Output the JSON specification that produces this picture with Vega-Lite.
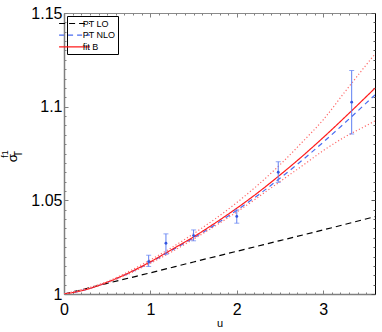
{
  "$schema": "https://vega.github.io/schema/vega-lite/v6.json",
  "width": 311,
  "height": 281,
  "autosize": {"type": "none"},
  "padding": {"left": 64, "top": 13, "right": 7, "bottom": 38},
  "background": "white",
  "config": {
    "view": {"stroke": null},
    "font": "Liberation Sans",
    "axis": {"grid": false, "titleFontWeight": "normal", "labelColor": "#000", "titleColor": "#000", "labelFlush": false, "labelOverlap": false, "labelBound": false, "tickColor": "#808080", "domainColor": "#808080"},
    "legend": {"labelFont": "Liberation Sans", "labelFontSize": 9, "labelColor": "#000"}
  },
  "datasets": {
    "main": [
      {"u": 0, "y": 1.0, "s": "PT LO"},
      {"u": 0.25, "y": 1.0028, "s": "PT LO"},
      {"u": 0.5, "y": 1.0057, "s": "PT LO"},
      {"u": 0.75, "y": 1.0085, "s": "PT LO"},
      {"u": 1.0, "y": 1.0113, "s": "PT LO"},
      {"u": 1.5, "y": 1.0171, "s": "PT LO"},
      {"u": 2.0, "y": 1.0228, "s": "PT LO"},
      {"u": 2.5, "y": 1.0285, "s": "PT LO"},
      {"u": 3.0, "y": 1.0342, "s": "PT LO"},
      {"u": 3.6, "y": 1.0413, "s": "PT LO"},
      {"u": 0, "y": 1.0, "s": "PT NLO"},
      {"u": 0.25, "y": 1.0023, "s": "PT NLO"},
      {"u": 0.5, "y": 1.0062, "s": "PT NLO"},
      {"u": 0.75, "y": 1.0111, "s": "PT NLO"},
      {"u": 1.0, "y": 1.0169, "s": "PT NLO"},
      {"u": 1.25, "y": 1.0234, "s": "PT NLO"},
      {"u": 1.5, "y": 1.0299, "s": "PT NLO"},
      {"u": 1.75, "y": 1.037, "s": "PT NLO"},
      {"u": 2.0, "y": 1.0447, "s": "PT NLO"},
      {"u": 2.25, "y": 1.0529, "s": "PT NLO"},
      {"u": 2.5, "y": 1.0618, "s": "PT NLO"},
      {"u": 2.75, "y": 1.0711, "s": "PT NLO"},
      {"u": 3.0, "y": 1.081, "s": "PT NLO"},
      {"u": 3.25, "y": 1.0913, "s": "PT NLO"},
      {"u": 3.5, "y": 1.102, "s": "PT NLO"},
      {"u": 3.6, "y": 1.1063, "s": "PT NLO"},
      {"u": 0, "y": 1.0, "s": "fit B"},
      {"u": 0.25, "y": 1.0023, "s": "fit B"},
      {"u": 0.5, "y": 1.0063, "s": "fit B"},
      {"u": 0.75, "y": 1.0113, "s": "fit B"},
      {"u": 1.0, "y": 1.0172, "s": "fit B"},
      {"u": 1.25, "y": 1.0238, "s": "fit B"},
      {"u": 1.5, "y": 1.0305, "s": "fit B"},
      {"u": 1.75, "y": 1.0379, "s": "fit B"},
      {"u": 2.0, "y": 1.0458, "s": "fit B"},
      {"u": 2.25, "y": 1.0543, "s": "fit B"},
      {"u": 2.5, "y": 1.0635, "s": "fit B"},
      {"u": 2.75, "y": 1.0732, "s": "fit B"},
      {"u": 3.0, "y": 1.0835, "s": "fit B"},
      {"u": 3.25, "y": 1.0943, "s": "fit B"},
      {"u": 3.5, "y": 1.1054, "s": "fit B"},
      {"u": 3.6, "y": 1.1099, "s": "fit B"}
    ],
    "band": [
      {"u": 0, "y": 1.0, "b": "upper"},
      {"u": 0.5, "y": 1.0067, "b": "upper"},
      {"u": 1.0, "y": 1.0182, "b": "upper"},
      {"u": 1.5, "y": 1.0322, "b": "upper"},
      {"u": 2.0, "y": 1.0488, "b": "upper"},
      {"u": 2.5, "y": 1.069, "b": "upper"},
      {"u": 2.75, "y": 1.0807, "b": "upper"},
      {"u": 3.0, "y": 1.093, "b": "upper"},
      {"u": 3.25, "y": 1.1078, "b": "upper"},
      {"u": 3.5, "y": 1.1224, "b": "upper"},
      {"u": 3.6, "y": 1.1281, "b": "upper"},
      {"u": 0, "y": 1.0, "b": "lower"},
      {"u": 0.5, "y": 1.006, "b": "lower"},
      {"u": 1.0, "y": 1.0164, "b": "lower"},
      {"u": 1.5, "y": 1.0293, "b": "lower"},
      {"u": 2.0, "y": 1.0438, "b": "lower"},
      {"u": 2.5, "y": 1.06, "b": "lower"},
      {"u": 2.75, "y": 1.0682, "b": "lower"},
      {"u": 3.0, "y": 1.0765, "b": "lower"},
      {"u": 3.25, "y": 1.0838, "b": "lower"},
      {"u": 3.5, "y": 1.0899, "b": "lower"},
      {"u": 3.6, "y": 1.0924, "b": "lower"}
    ],
    "pts": [
      {"u": 0.98, "y": 1.0173, "lo": 1.0147, "hi": 1.0207},
      {"u": 1.18, "y": 1.0271, "lo": 1.0212, "hi": 1.0321},
      {"u": 1.5, "y": 1.0312, "lo": 1.0284, "hi": 1.0342},
      {"u": 2.0, "y": 1.0414, "lo": 1.0378, "hi": 1.0449},
      {"u": 2.48, "y": 1.065, "lo": 1.0596, "hi": 1.0706},
      {"u": 3.33, "y": 1.1024, "lo": 1.0854, "hi": 1.1193}
    ]
  },
  "resolve": {"axis": {"x": "independent", "y": "independent"}},
  "layer": [
    {
      "data": {"name": "main"},
      "mark": {"type": "line", "strokeWidth": 1.2, "interpolate": "monotone", "clip": true},
      "encoding": {
        "x": {"field": "u", "type": "quantitative", "scale": {"domain": [0, 3.6], "nice": false, "zero": false},
          "axis": {"orient": "bottom", "values": [0, 1, 2, 3], "format": "~g", "ticks": false, "labelFontSize": 16, "labelPadding": 7, "domainColor": "#7f7f7f", "domainWidth": 1.5, "title": "u", "titleFontSize": 11, "titlePadding": 0}},
        "y": {"field": "y", "type": "quantitative", "scale": {"domain": [1, 1.15], "nice": false, "zero": false},
          "axis": {"orient": "left", "values": [1, 1.05, 1.1, 1.15], "format": "~g", "ticks": false, "labelFontSize": 16, "labelPadding": 2, "domainColor": "#7f7f7f", "domainWidth": 1.5, "title": "σ\u2009", "titleAlign": "right", "titleFontSize": 13.5, "titlePadding": 11}},
        "color": {"field": "s", "type": "nominal", "scale": {"domain": ["PT LO", "PT NLO", "fit B"], "range": ["#000000", "#4a6cf0", "#ff1a1a"]},
          "legend": {"title": null, "orient": "top-left", "offset": 3, "padding": 2, "strokeColor": "#000", "fillColor": "#fff", "symbolType": "M-3.25,0H3.25", "symbolSize": 90, "symbolStrokeWidth": 1.2, "symbolOffset": 0, "labelOffset": 2.7, "rowPadding": 0.7}},
        "strokeDash": {"field": "s", "type": "nominal", "scale": {"domain": ["PT LO", "PT NLO", "fit B"], "range": [[6, 4], [5, 4], [1, 0]]},
          "legend": {"title": null, "orient": "top-left", "offset": 3, "padding": 2, "strokeColor": "#000", "fillColor": "#fff", "symbolType": "M-3.25,0H3.25", "symbolSize": 90, "symbolStrokeWidth": 1.2, "symbolOffset": 0, "labelOffset": 2.7, "rowPadding": 0.7}}
      }
    },
    {
      "data": {"name": "band"},
      "mark": {"type": "line", "color": "#ff6a6a", "strokeWidth": 1.2, "strokeDash": [1.2, 2.2], "interpolate": "monotone", "clip": true},
      "encoding": {
        "x": {"field": "u", "type": "quantitative", "scale": {"domain": [0, 3.6], "nice": false, "zero": false},
          "axis": {"orient": "bottom", "values": [0, 1, 2, 3], "tickSize": -4, "labels": false, "domain": false, "title": null}},
        "y": {"field": "y", "type": "quantitative", "scale": {"domain": [1, 1.15], "nice": false, "zero": false},
          "axis": {"orient": "left", "values": [1, 1.05, 1.1, 1.15], "tickSize": -4, "labels": false, "domain": false, "title": "\u00a0\u00a0\u00a0T", "titleFontSize": 10, "titlePadding": 40}},
        "detail": {"field": "b"}
      }
    },
    {
      "data": {"name": "pts"},
      "mark": {"type": "rule", "color": "#5f7ff2", "strokeWidth": 1},
      "encoding": {
        "x": {"field": "u", "type": "quantitative", "scale": {"domain": [0, 3.6], "nice": false, "zero": false},
          "axis": {"orient": "bottom", "values": [0, 0.1, 0.2, 0.3, 0.4, 0.5, 0.6, 0.7, 0.8, 0.9, 1, 1.1, 1.2, 1.3, 1.4, 1.5, 1.6, 1.7, 1.8, 1.9, 2, 2.1, 2.2, 2.3, 2.4, 2.5, 2.6, 2.7, 2.8, 2.9, 3, 3.1, 3.2, 3.3, 3.4, 3.5, 3.6], "tickSize": -2, "labels": false, "domain": false, "title": null}},
        "y": {"field": "lo", "type": "quantitative", "scale": {"domain": [1, 1.15], "nice": false, "zero": false},
          "axis": {"orient": "left", "values": [1, 1.005, 1.01, 1.015, 1.02, 1.025, 1.03, 1.035, 1.04, 1.045, 1.05, 1.055, 1.06, 1.065, 1.07, 1.075, 1.08, 1.085, 1.09, 1.095, 1.1, 1.105, 1.11, 1.115, 1.12, 1.125, 1.13, 1.135, 1.14, 1.145, 1.15], "tickSize": -2, "labels": false, "domain": false, "title": "\u00a0\u00a0\u00a0f1", "titleFontSize": 9, "titlePadding": 54}},
        "y2": {"field": "hi"}
      }
    },
    {
      "data": {"name": "pts"},
      "mark": {"type": "tick", "orient": "horizontal", "color": "#5f7ff2", "size": 5, "thickness": 1},
      "encoding": {
        "x": {"field": "u", "type": "quantitative", "scale": {"domain": [0, 3.6], "nice": false, "zero": false},
          "axis": {"orient": "top", "values": [0, 1, 2, 3], "tickSize": -4, "labels": false, "domain": true, "domainColor": "#8a8a8a", "title": null}},
        "y": {"field": "hi", "type": "quantitative", "scale": {"domain": [1, 1.15], "nice": false, "zero": false},
          "axis": {"orient": "right", "values": [1, 1.05, 1.1, 1.15], "tickSize": -4, "labels": false, "domain": true, "domainColor": "#000", "tickColor": "#555", "title": null}}
      }
    },
    {
      "data": {"name": "pts"},
      "mark": {"type": "tick", "orient": "horizontal", "color": "#5f7ff2", "size": 5, "thickness": 1},
      "encoding": {
        "x": {"field": "u", "type": "quantitative", "scale": {"domain": [0, 3.6], "nice": false, "zero": false},
          "axis": {"orient": "top", "values": [0, 0.1, 0.2, 0.3, 0.4, 0.5, 0.6, 0.7, 0.8, 0.9, 1, 1.1, 1.2, 1.3, 1.4, 1.5, 1.6, 1.7, 1.8, 1.9, 2, 2.1, 2.2, 2.3, 2.4, 2.5, 2.6, 2.7, 2.8, 2.9, 3, 3.1, 3.2, 3.3, 3.4, 3.5, 3.6], "tickSize": -2, "labels": false, "domain": false, "title": null}},
        "y": {"field": "lo", "type": "quantitative", "scale": {"domain": [1, 1.15], "nice": false, "zero": false},
          "axis": {"orient": "right", "values": [1, 1.005, 1.01, 1.015, 1.02, 1.025, 1.03, 1.035, 1.04, 1.045, 1.05, 1.055, 1.06, 1.065, 1.07, 1.075, 1.08, 1.085, 1.09, 1.095, 1.1, 1.105, 1.11, 1.115, 1.12, 1.125, 1.13, 1.135, 1.14, 1.145, 1.15], "tickSize": -2, "labels": false, "domain": false, "tickColor": "#555", "title": null}}
      }
    },
    {
      "data": {"name": "pts"},
      "mark": {"type": "point", "filled": true, "size": 8, "color": "#3355e0", "opacity": 1},
      "encoding": {
        "x": {"field": "u", "type": "quantitative", "scale": {"domain": [0, 3.6], "nice": false, "zero": false}, "axis": null},
        "y": {"field": "y", "type": "quantitative", "scale": {"domain": [1, 1.15], "nice": false, "zero": false}, "axis": null}
      }
    }
  ]
}
